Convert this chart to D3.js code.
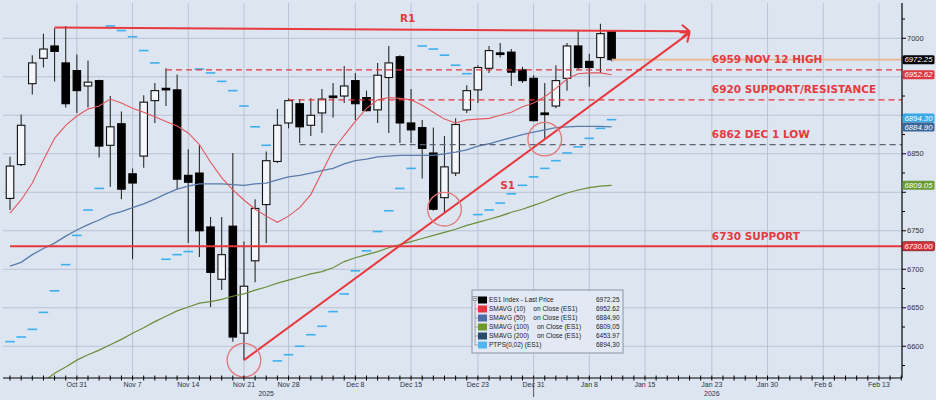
<!DOCTYPE html>
<html><head><meta charset="utf-8">
<script src="https://cdn.jsdelivr.net/npm/d3@7"></script>
<style>
html,body{margin:0;padding:0;background:#dde5f1;}
svg{display:block;}
</style></head><body>
<svg id="chart" width="936" height="400"></svg>
<script>
// ---------------- DATA ----------------
const dates = ["2025-10-23","2025-10-24","2025-10-27","2025-10-28","2025-10-29","2025-10-30","2025-10-31",
"2025-11-03","2025-11-04","2025-11-05","2025-11-06","2025-11-07","2025-11-10","2025-11-11","2025-11-12","2025-11-13","2025-11-14",
"2025-11-17","2025-11-18","2025-11-19","2025-11-20","2025-11-21","2025-11-24","2025-11-25","2025-11-26","2025-11-28",
"2025-12-01","2025-12-02","2025-12-03","2025-12-04","2025-12-05","2025-12-08","2025-12-09","2025-12-10","2025-12-11","2025-12-12",
"2025-12-15","2025-12-16","2025-12-17","2025-12-18","2025-12-19","2025-12-22","2025-12-23","2025-12-24","2025-12-26",
"2025-12-29","2025-12-30","2025-12-31","2026-01-02","2026-01-05","2026-01-06","2026-01-07","2026-01-08","2026-01-09","2026-01-12"];
const open  = [6792,6836,6941,6974,6990,6968,6958,6938,6945,6861,6889,6824,6847,6919,6935,6933,6822,6825,6755,6687,6756,6617,6711,6784,6840,6890,6915,6887,6903,6925,6925,6945,6923,6907,6949,6976,6890,6884,6851,6793,6825,6907,6933,6961,6981,6982,6959,6948,6903,6912,6948,6990,6970,6975,7009];
const high  = [6846,6901,6978,7006,7013,7016,6979,6971,6946,6925,6905,6831,6926,6942,6961,6953,6856,6861,6768,6768,6851,6736,6791,6853,6908,6922,6921,6922,6934,6942,6964,6955,6932,6968,6990,6978,6934,6894,6884,6873,6896,6939,6965,6990,6994,6986,6963,6952,6942,6965,6994,7009,6980,7019,7010];
const low   = [6777,6834,6927,6962,6944,6910,6903,6910,6845,6807,6791,6713,6832,6890,6912,6804,6734,6716,6651,6673,6606,6582,6683,6734,6838,6883,6864,6873,6877,6897,6916,6894,6905,6890,6877,6864,6864,6818,6776,6774,6821,6903,6916,6955,6975,6938,6942,6892,6870,6909,6932,6959,6937,6955,6970];
const close = [6834,6887,6968,6986,6983,6915,6932,6943,6860,6885,6804,6812,6917,6932,6933,6817,6813,6750,6696,6719,6612,6678,6779,6841,6887,6919,6885,6900,6921,6924,6938,6915,6906,6952,6968,6890,6881,6857,6778,6833,6888,6932,6962,6984,6980,6956,6945,6893,6901,6945,6990,6962,6962,7006,6972.25];
const sma10 = [6773,6790,6812,6842,6870,6887,6899,6908,6912,6921,6916,6909,6904,6898,6892,6886,6877,6862,6839,6819,6803,6790,6778,6769,6761,6769,6780,6797,6826,6855,6874,6892,6909,6920,6923,6922,6920,6913,6904,6895,6890,6894,6895,6896,6900,6904,6911,6916,6924,6935,6947,6954,6955,6955,6952.62];
const sma50 = [6704,6709,6719,6727,6734,6743,6751,6758,6764,6771,6775,6780,6785,6791,6798,6804,6808,6811,6811,6811,6810,6809,6811,6812,6816,6820,6822,6825,6828,6831,6837,6841,6843,6846,6847,6848,6848,6848,6848,6850,6852,6855,6860,6863,6867,6871,6875,6878,6881,6884,6885,6885.5,6885.5,6885.5,6884.9];
const sma100 = [6529,6537,6545,6554,6565,6573,6582,6589,6595,6602,6609,6617,6624,6632,6639,6646,6651,6656,6658,6661,6665,6668,6673,6677,6682,6686,6690,6694,6697,6702,6710,6715,6719,6723,6728,6732,6736,6740,6744,6748,6752,6757,6761,6765,6769,6774,6778,6783,6788,6794,6799,6803,6806,6808,6809.05];
const ptps = [6606,6612,6622,6644,6672,6706,6744,6777,6805,7016,7010,7002,6984,6968,6713,6719,6723,6960,6955,6944,6932,6912,6885,6861,6581,6589,6600,6615,6626,6645,6668,6698,6724,6749,6776,6805,6831,6990,6986,6978,6965,6954,6771,6777,6786,6798,6809,6820,6831,6841,6851,6859,6870,6883,6894.3];

const holidays = ["2025-11-27","2025-12-25","2026-01-01"];
const xTickDates  = ["2025-10-31","2025-11-07","2025-11-14","2025-11-21","2025-11-28","2025-12-08","2025-12-15","2025-12-23","2025-12-31","2026-01-08","2026-01-15","2026-01-23","2026-01-30","2026-02-06","2026-02-13"];
const xTickLabels = ["Oct 31","Nov 7","Nov 14","Nov 21","Nov 28","Dec 8","Dec 15","Dec 23","Dec 31","Jan 8","Jan 15","Jan 23","Jan 30","Feb 6","Feb 13"];
const yearLabels = ["2025","2026"];
const yearLabelDates = ["2025-11-25","2026-01-23"];
const yTicks = [6600,6650,6700,6750,6800,6850,6900,6950,7000];

const levelValues = [6959, 6920, 6862, 6730];
const levelStart  = ["2025-11-12","2025-11-28","2025-12-01","2025-10-23"];
const levelLabels = ["6959 NOV 12 HIGH","6920 SUPPORT/RESISTANCE","6862 DEC 1 LOW","6730 SUPPORT"];
const labelDate = "2026-01-23";

const r1Line = [["2025-10-29", 7014], ["2026-01-21", 7009]];
const s1Line = [["2025-11-21", 6582], ["2026-01-21", 7007]];
const circles = [["2025-11-21", 6582], ["2025-12-18", 6778], ["2026-01-02", 6869]];
const r1Label = ["R1", "2025-12-12", 7021];
const s1Label = ["S1", "2025-12-26", 6804];

const tagValues = [6972.25, 6952.62, 6894.30, 6884.90, 6809.05, 6730.00];
const tagColors = ["#000000", "#dc3a40", "#38a8e6", "#3d6698", "#6a9a34", "#d9363c"];

const legendNames  = ["ES1 Index - Last Price","SMAVG (10)  on Close (ES1)","SMAVG (50)  on Close (ES1)","SMAVG (100)  on Close (ES1)","SMAVG (200)  on Close (ES1)","PTPS(0,02) (ES1)"];
const legendValues = ["6972.25","6952.62","6884,90","6809,05","6453.97","6894,30"];
const legendColors = ["#000000","#e8343c","#4a6fa5","#6d9a2b","#2a4a6b","#52b6f0"];

// ---------------- CALENDAR ----------------
const cal = (() => {
  const out = []; let d = new Date(Date.UTC(2025, 9, 23)); const end = new Date(Date.UTC(2026, 1, 20));
  while (d <= end) { const wd = d.getUTCDay(); const s = d.toISOString().slice(0, 10);
    if (wd !== 0 && wd !== 6 && !holidays.includes(s)) out.push(s);
    d = new Date(d.getTime() + 86400000); }
  return out;
})();
const idx = s => cal.indexOf(s);

// ---------------- SCALES ----------------
const W = 936, H = 400, L = 3, R = 902, T = 3, B = 378;
const x = d3.scaleLinear().domain([-0.63, 80.07]).range([L, R]);
const y = d3.scaleLinear().domain([6558.8, 7045.8]).range([B, T]);
const X = s => x(idx(s));

const svg = d3.select("#chart");
svg.append("rect").attr("width", W).attr("height", H).attr("fill", "#dde5f1");
const defs = svg.append("defs");
defs.append("clipPath").attr("id", "plot").append("rect").attr("x", L).attr("y", T).attr("width", R - L).attr("height", B - T);
const g = svg.append("g").attr("clip-path", "url(#plot)");

// gridlines
g.selectAll(".hg").data(yTicks).join("line")
  .attr("x1", L).attr("x2", R).attr("y1", d => y(d)).attr("y2", d => y(d))
  .attr("stroke", "#bac4d5").attr("stroke-width", 1);
g.selectAll(".vg").data(xTickDates).join("line")
  .attr("x1", d => X(d)).attr("x2", d => X(d)).attr("y1", T).attr("y2", B)
  .attr("stroke", "#bac4d5").attr("stroke-width", 1);

// candles
const candles = dates.map((d, i) => ({ d, o: open[i], h: high[i], l: low[i], c: close[i] }));
const cg = g.append("g");
cg.selectAll("line").data(candles).join("line")
  .attr("x1", d => X(d.d)).attr("x2", d => X(d.d))
  .attr("y1", d => y(d.h)).attr("y2", d => y(d.l))
  .attr("stroke", "#2a2a2a").attr("stroke-width", 1.1);
const bw = 7.5;
cg.selectAll("rect").data(candles).join("rect")
  .attr("x", d => X(d.d) - bw / 2).attr("width", bw)
  .attr("y", d => y(Math.max(d.o, d.c)))
  .attr("height", d => Math.max(1.6, Math.abs(y(d.o) - y(d.c))))
  .attr("fill", d => d.c >= d.o ? "#f3f6fb" : "#000")
  .attr("stroke", d => d.c >= d.o ? "#111" : "#000").attr("stroke-width", 1.1);

// moving averages
const lineGen = arr => d3.line().x((v, i) => X(dates[i])).y(v => y(v))(arr);
g.append("path").attr("d", lineGen(sma100)).attr("fill", "none").attr("stroke", "#6b8e3a").attr("stroke-width", 1.2);
g.append("path").attr("d", lineGen(sma50)).attr("fill", "none").attr("stroke", "#5a7bab").attr("stroke-width", 1.3);
g.append("path").attr("d", lineGen(sma10)).attr("fill", "none").attr("stroke", "#e2585e").attr("stroke-width", 1.1);

// parabolic SAR dashes
g.selectAll(".sar").data(ptps).join("line")
  .attr("x1", (v, i) => X(dates[i]) - 4.8).attr("x2", (v, i) => X(dates[i]) + 4.8)
  .attr("y1", v => y(v)).attr("y2", v => y(v))
  .attr("stroke", "#3cb0ee").attr("stroke-width", 1.6);

// level lines
levelValues.forEach((v, i) => {
  const isSupport = i === 3, isGrey = i === 2;
  g.append("line").attr("x1", X(levelStart[i])).attr("x2", R)
    .attr("y1", y(v)).attr("y2", y(v))
    .attr("stroke", isGrey ? "#5c6474" : "#e3373d")
    .attr("stroke-width", isSupport ? 2 : 1.3)
    .attr("stroke-dasharray", isSupport ? null : "6,4");
});
// last price line
g.append("line").attr("x1", X(dates[dates.length - 1])).attr("x2", R)
  .attr("y1", y(close[close.length - 1])).attr("y2", y(close[close.length - 1]))
  .attr("stroke", "#e9b68c").attr("stroke-width", 1.6);

// trend lines with arrowheads
function arrowLine(pts) {
  const x1 = X(pts[0][0]), y1 = y(pts[0][1]), x2 = X(pts[1][0]), y2 = y(pts[1][1]);
  g.append("line").attr("x1", x1).attr("y1", y1).attr("x2", x2).attr("y2", y2)
    .attr("stroke", "#e8393f").attr("stroke-width", 2);
  const a = Math.atan2(y2 - y1, x2 - x1), len = 10, sp = 0.7;
  const p = d3.path();
  p.moveTo(x2 - len * Math.cos(a - sp), y2 - len * Math.sin(a - sp));
  p.lineTo(x2, y2);
  p.lineTo(x2 - len * Math.cos(a + sp), y2 - len * Math.sin(a + sp));
  g.append("path").attr("d", p.toString()).attr("fill", "none").attr("stroke", "#e8393f").attr("stroke-width", 2).attr("stroke-linejoin", "round");
}
arrowLine(r1Line);
arrowLine(s1Line);

// circles
g.selectAll(".circ").data(circles).join("circle")
  .attr("cx", d => X(d[0])).attr("cy", d => y(d[1])).attr("r", 16.8)
  .attr("fill", "none").attr("stroke", "#e37676").attr("stroke-width", 1.3);

// labels
const lblFont = "'DejaVu Sans', Verdana, sans-serif";
levelValues.forEach((v, i) => {
  svg.append("text").attr("x", X(labelDate)).attr("y", y(v) - 6.5)
    .attr("fill", "#e53a40").attr("font-family", lblFont).attr("font-weight", "bold")
    .attr("font-size", "10.5px").text(levelLabels[i]);
});
[r1Label, s1Label].forEach(l => {
  svg.append("text").attr("x", X(l[1])).attr("y", y(l[2]))
    .attr("fill", "#e53a40").attr("font-family", lblFont).attr("font-weight", "bold")
    .attr("font-size", "10.5px").text(l[0]);
});

// ---------------- AXES ----------------
const axFont = "'Liberation Sans', Arial, sans-serif";

// right value tags positions (computed first so covered tick labels can be skipped)
const tags = tagValues.map((v, i) => ({ v, c: tagColors[i], yy: y(v) }));
const sorted = tags.slice().sort((a, b) => a.yy - b.yy);
for (let i = sorted.length - 2; i >= 0; i--) {
  if (sorted[i].yy > sorted[i + 1].yy - 9) sorted[i].yy = sorted[i + 1].yy - 9;
}

// right axis
svg.append("line").attr("x1", R).attr("x2", R).attr("y1", T).attr("y2", B).attr("stroke", "#000").attr("stroke-width", 1.2);
const minorY = d3.range(6575, 7030, 25);
svg.selectAll(".ymt").data(minorY).join("line")
  .attr("x1", R).attr("x2", d => R + (d % 50 === 0 ? 4 : 3)).attr("y1", d => y(d)).attr("y2", d => y(d))
  .attr("stroke", "#000");
const visibleYTicks = yTicks.filter(v => tags.every(t => Math.abs(t.yy - y(v)) > 9.5));
svg.selectAll(".ytl").data(visibleYTicks).join("text")
  .attr("x", R + 5).attr("y", d => y(d)).attr("dy", "0.35em")
  .attr("font-family", axFont).attr("font-size", "7.5px").attr("fill", "#333").text(d => d);

// bottom axis
svg.append("line").attr("x1", L).attr("x2", R).attr("y1", B).attr("y2", B).attr("stroke", "#000").attr("stroke-width", 1.2);
const dayTicks = cal.filter(d => x(idx(d)) <= R && x(idx(d)) >= L);
svg.selectAll(".xt").data(dayTicks).join("line")
  .attr("x1", d => X(d)).attr("x2", d => X(d)).attr("y1", B - 2.5).attr("y2", B + 2.5)
  .attr("stroke", "#000").attr("stroke-width", 1);
svg.selectAll(".xtl").data(xTickDates).join("text")
  .attr("x", d => X(d)).attr("y", 387).attr("text-anchor", "middle")
  .attr("font-family", axFont).attr("font-size", "7px").attr("fill", "#2b3445")
  .text((d, i) => xTickLabels[i]);
svg.selectAll(".yl").data(yearLabelDates).join("text")
  .attr("x", d => X(d)).attr("y", 396).attr("text-anchor", "middle")
  .attr("font-family", axFont).attr("font-size", "7px").attr("fill", "#2b3445")
  .text((d, i) => yearLabels[i]);
svg.append("line").attr("x1", X("2025-12-31")).attr("x2", X("2025-12-31")).attr("y1", B).attr("y2", 397)
  .attr("stroke", "#555").attr("stroke-width", 1);

const tg = svg.append("g");
tags.forEach(t => {
  tg.append("rect").attr("x", R + 0.5).attr("y", t.yy - 4.5).attr("width", 32).attr("height", 9).attr("rx", 1.5)
    .attr("fill", t.c).attr("stroke", t.v === 6730 ? "#7a1a1a" : "none").attr("stroke-width", 0.8);
  tg.append("text").attr("x", R + 16.5).attr("y", t.yy).attr("dy", "0.36em").attr("text-anchor", "middle")
    .attr("font-family", axFont).attr("font-style", "italic").attr("font-size", "7.5px").attr("fill", "#fff")
    .attr("textLength", 28).attr("lengthAdjust", "spacingAndGlyphs")
    .text(t.v.toFixed(2));
});

// ---------------- LEGEND ----------------
const lg = svg.append("g");
lg.append("rect").attr("x", 472).attr("y", 290).attr("width", 151).attr("height", 63)
  .attr("fill", "#e3e9f4").attr("stroke", "#8a93a6").attr("stroke-width", 1);
lg.append("rect").attr("x", 473).attr("y", 296.5).attr("width", 4).attr("height", 4).attr("fill", "none").attr("stroke", "#777").attr("stroke-width", 0.7);
lg.append("line").attr("x1", 473.8).attr("x2", 476.2).attr("y1", 298.5).attr("y2", 298.5).attr("stroke", "#555").attr("stroke-width", 0.7);
lg.append("line").attr("x1", 475).attr("x2", 475).attr("y1", 301).attr("y2", 345).attr("stroke", "#888").attr("stroke-width", 0.7);
legendNames.forEach((n, i) => {
  const cy = 300 + i * 9;
  if (i > 0) lg.append("line").attr("x1", 475).attr("x2", 478).attr("y1", cy).attr("y2", cy).attr("stroke", "#888").attr("stroke-width", 0.7);
  lg.append("rect").attr("x", 478).attr("y", cy - 3.5).attr("width", 9).attr("height", 7).attr("fill", legendColors[i]);
  const parts = n.split("  ");
  const t1 = lg.append("text").attr("x", 489).attr("y", cy + 2.3).attr("font-family", axFont).attr("font-size", "6.5px").attr("fill", "#1a1a1a").text(parts[0]);
  if (parts[1]) {
    const w = t1.node().getComputedTextLength();
    lg.append("text").attr("x", 489 + w + 8).attr("y", cy + 2.3).attr("font-family", axFont).attr("font-size", "6.5px").attr("fill", "#1a1a1a").text(parts[1]);
  }
  lg.append("text").attr("x", 619.5).attr("y", cy + 2.3).attr("text-anchor", "end").attr("font-family", axFont).attr("font-size", "6.5px").attr("fill", "#1a1a1a").text(legendValues[i]);
});
</script>
</body></html>
